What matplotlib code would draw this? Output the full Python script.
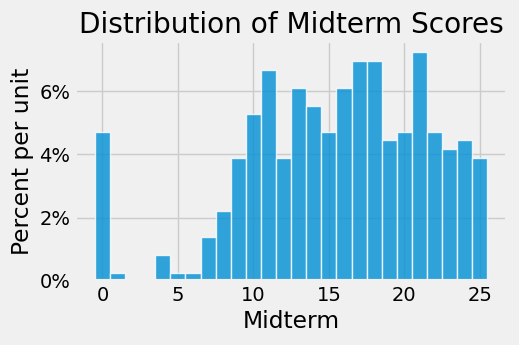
import numpy as np
import matplotlib
matplotlib.use("Agg")
import matplotlib.pyplot as plt
from matplotlib.ticker import FuncFormatter

plt.style.use('fivethirtyeight')

# scores 0..25, percent of students per unit
scores = np.arange(0, 26)
percent = [4.72, 0.25, 0, 0, 0.82, 0.25, 0.25, 1.38, 2.22, 3.88,
           5.28, 6.66, 3.88, 6.1, 5.54, 4.72, 6.1, 6.94, 6.94, 4.44,
           4.72, 7.22, 4.72, 4.16, 4.44, 3.88]
bins = np.arange(-0.5, 26.5, 1)

fig = plt.figure(figsize=(5.19, 3.45), dpi=100)
ax = fig.add_axes([0.145, 0.186, 0.832, 0.695])

ax.hist(scores, bins=bins, weights=percent, color='#008fd5', alpha=0.8,
        edgecolor='white', linewidth=1)

ax.yaxis.set_major_formatter(FuncFormatter(lambda v, p: '%d%%' % v))
ax.set_yticks([0, 2, 4, 6])
ax.set_xticks([0, 5, 10, 15, 20, 25])
ax.set_xlabel('Midterm', fontsize=16.8)
ax.set_ylabel('Percent per unit', fontsize=16.8)
ax.set_title('Distribution of Midterm Scores', fontsize=20.16)

fig.savefig('out.png', dpi=100)
